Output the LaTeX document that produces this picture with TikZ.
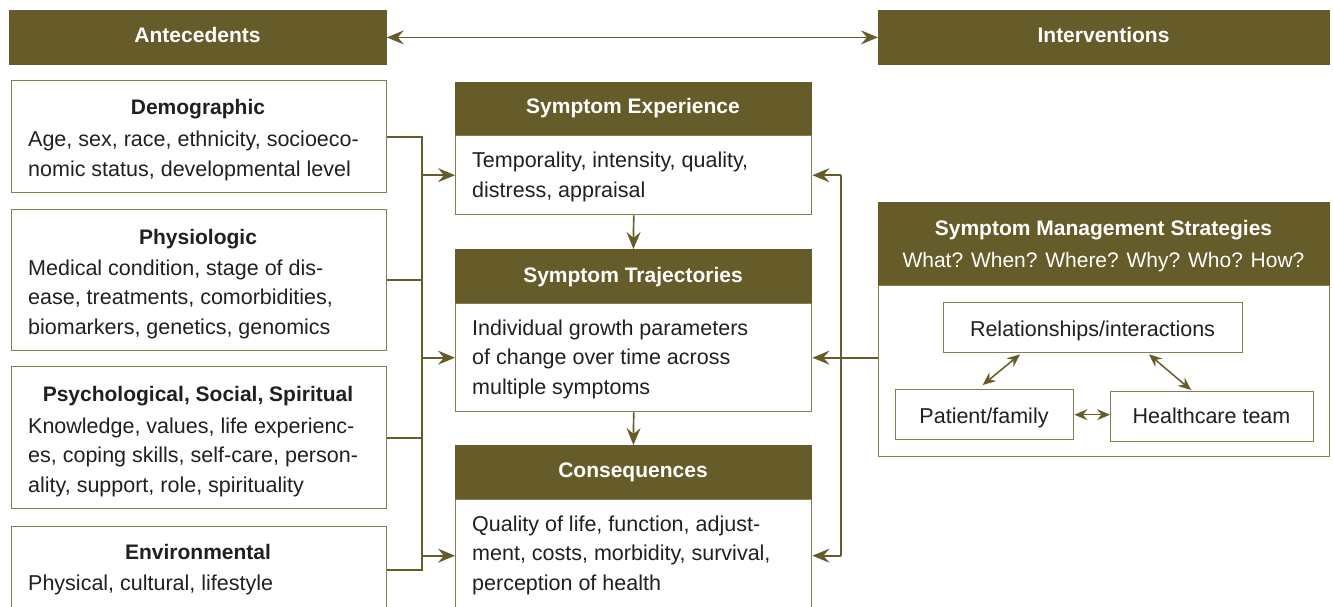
\documentclass[tikz,border=0pt]{standalone}
\usepackage{fontspec}
\setmainfont{Liberation Sans}
\usetikzlibrary{arrows.meta,calc}
\definecolor{dk}{HTML}{655C29}
\definecolor{bl}{HTML}{857E4E}
\definecolor{tx}{HTML}{231F20}
\newcommand{\fsz}{\fontsize{21.5}{29.3}\selectfont}
\newcommand{\hsz}{\fontsize{21}{29.3}\selectfont}
\tikzset{
  hdr/.style={fill=dk, draw=dk, line width=0.8pt, anchor=north west, inner sep=0pt},
  bx/.style={draw=bl, line width=1.4pt, fill=white, anchor=north west, inner sep=0pt},
  htxt/.style={text=white, font=\bfseries\hsz, anchor=base, inner sep=0pt},
  ttl/.style={text=tx, font=\bfseries\hsz, anchor=base, inner sep=0pt},
  btxt/.style={text=tx, font=\fsz, align=left, anchor=base west, inner sep=0pt},
  ctxt/.style={text=tx, font=\fsz, anchor=base, inner sep=0pt},
  con/.style={draw=dk, line width=1.7pt},
  arr/.style={con, -{Stealth[length=17pt,width=14pt,inset=6pt]}},
  darr/.style={con, {Stealth[length=17pt,width=14pt,inset=6pt]}-{Stealth[length=17pt,width=14pt,inset=6pt]}},
  sarr/.style={con, line width=1.5pt, {Stealth[length=13pt,width=11pt,inset=4.5pt]}-{Stealth[length=13pt,width=11pt,inset=4.5pt]}},
}
\begin{document}
\begin{tikzpicture}[x=1pt,y=-1pt]
\useasboundingbox (0,0) rectangle (1333,607);
% top bars
\node[hdr, minimum width=377pt, minimum height=54pt] (ante) at (9,10) {};
\node[hdr, minimum width=451pt, minimum height=54pt] (inter) at (878,10) {};
\node[htxt] (anteT) at (197.5,43) {Antecedents};
\node[htxt] (interT) at (1103.5,43) {Interventions};
% left boxes
\node[bx, minimum width=375pt, minimum height=112pt] (demo) at (11,80) {};
\node[bx, minimum width=375pt, minimum height=141pt] (phys) at (11,209) {};
\node[bx, minimum width=375pt, minimum height=142pt] (psych) at (11,366) {};
\node[bx, minimum width=375pt, minimum height=86pt] (env) at (11,526) {};
\node[ttl] (demoH) at (198,115) {Demographic};
\node[btxt] (demoT) at (28,176) {Age, sex, race, ethnicity, socioeco-\\nomic status, developmental level};
\node[ttl] (physH) at (198,244) {Physiologic};
\node[btxt] (physT) at (28,334) {Medical condition, stage of dis-\\ease, treatments, comorbidities,\\biomarkers, genetics, genomics};
\node[ttl] (psychH) at (198,401) {Psychological, Social, Spiritual};
\node[btxt] (psychT) at (28,492) {Knowledge, values, life experienc-\\es, coping skills, self-care, person-\\ality, support, role, spirituality};
\node[ttl] (envH) at (198,559) {Environmental};
\node[btxt] (envT) at (28,590) {Physical, cultural, lifestyle};
% central boxes
\node[hdr, minimum width=356pt, minimum height=53pt] (seH) at (455,82) {};
\node[bx, minimum width=356pt, minimum height=79pt] (seB) at (455,135) {};
\node[hdr, minimum width=356pt, minimum height=54pt] (trH) at (455,249) {};
\node[bx, minimum width=356pt, minimum height=108pt] (trB) at (455,303) {};
\node[hdr, minimum width=356pt, minimum height=54pt] (cqH) at (455,445) {};
\node[bx, minimum width=356pt, minimum height=112pt] (cqB) at (455,499) {};
\node[htxt] (seHT) at (633,114) {Symptom Experience};
\node[btxt] (seT) at (472,197) {Temporality, intensity, quality,\\distress, appraisal};
\node[htxt] (trHT) at (633,282) {Symptom Trajectories};
\node[btxt] (trT) at (472,394) {Individual growth parameters\\of change over time across\\multiple symptoms};
\node[htxt] (cqHT) at (633,477) {Consequences};
\node[btxt] (cqT) at (472,590) {Quality of life, function, adjust-\\ment, costs, morbidity, survival,\\perception of health};
% SMS
\node[hdr, minimum width=451pt, minimum height=83pt] (smsH) at (878,202) {};
\node[bx, minimum width=451pt, minimum height=171pt] (smsB) at (878,285) {};
\node[htxt] (smsT1) at (1103.5,235) {Symptom Management Strategies};
\node[htxt, font=\hsz] (smsT2) at (1103.5,267) {What? When? Where? Why? Who? How?};
\node[bx, minimum width=299pt, minimum height=50pt] (rel) at (943,302) {};
\node[bx, minimum width=178pt, minimum height=50pt] (pat) at (895,389) {};
\node[bx, minimum width=203pt, minimum height=50pt] (hc) at (1110,391) {};
\node[ctxt] (relT) at (1092.5,336) {Relationships/interactions};
\node[ctxt] (patT) at (984,423) {Patient/family};
\node[ctxt] (hcT) at (1211.5,423) {Healthcare team};
% connectors
\coordinate (lb) at (422,0);
\coordinate (rb) at (841,0);
\draw[darr] (ante.east) -- (inter.west);
\draw[con] (demo.east) -| (lb |- env.east) -- (env.east);
\draw[con] (phys.east) -- (phys.east -| lb);
\draw[con] (psych.east) -- (psych.east -| lb);
\draw[arr] (seB.west -| lb) -- (seB.west);
\draw[arr] (trB.west -| lb) -- (trB.west);
\draw[arr] (cqB.west -| lb) -- (cqB.west);
\draw[con] (seB.east -| rb) -- (cqB.east -| rb);
\draw[arr] (seB.east -| rb) -- (seB.east);
\draw[arr] (cqB.east -| rb) -- (cqB.east);
\draw[arr] (trB.east -| smsB.west) -- (trB.east);
\draw[arr] (seB.south) -- (trH.north);
\draw[arr] (trB.south) -- (cqH.north);
\draw[sarr] ($(rel.south west)+(77,1)$) -- ($(pat.north)+(-2,-4)$);
\draw[sarr] ($(rel.south west)+(206,1)$) -- ($(hc.north west)+(81,-1)$);
\draw[sarr] (pat.east) -- (pat.east -| hc.west);
\end{tikzpicture}
\end{document}
